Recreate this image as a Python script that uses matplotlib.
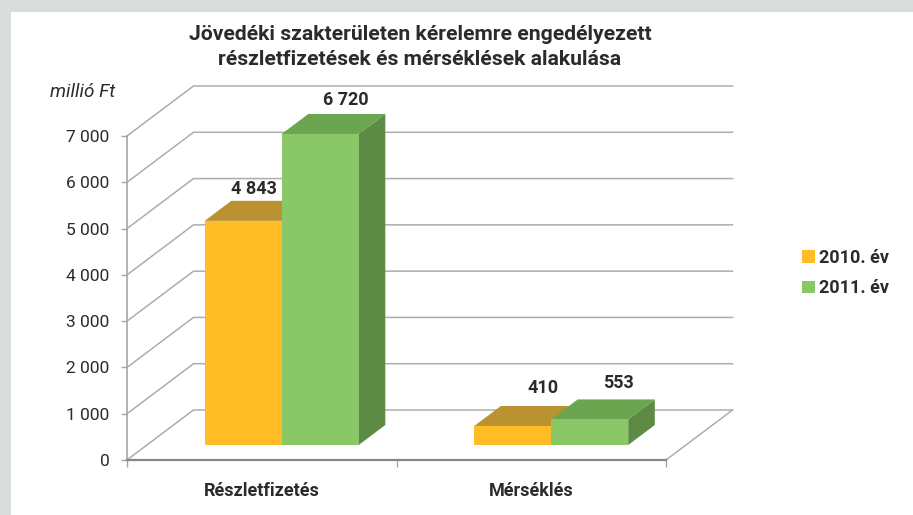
import matplotlib
matplotlib.use("Agg")
import matplotlib.pyplot as plt
from matplotlib.patches import Polygon, Patch, Rectangle

categories = ["Részletfizetés", "Mérséklés"]
series_names = ["2010. év", "2011. év"]
values_2010 = [4843, 410]
values_2011 = [6720, 553]
value_labels = [["4 843", "410"], ["6 720", "553"]]
y_ticks = [0, 1000, 2000, 3000, 4000, 5000, 6000, 7000]
y_tick_labels = ["0", "1 000", "2 000", "3 000", "4 000", "5 000", "6 000", "7 000"]
title = "Jövedéki szakterületen kérelemre engedélyezett\nrészletfizetések és mérséklések alakulása"
unit = "millió Ft"

FONT = "Roboto"
W, H = 913, 515
plt.rcParams["font.family"] = [FONT, "DejaVu Sans"]
fig = plt.figure(figsize=(W / 100, H / 100), dpi=100, facecolor="white")

# page frame
fig.patches.append(Rectangle((0, 1 - 12 / H), 1, 12 / H, transform=fig.transFigure, fc="#d9dcdc", ec="none"))
fig.patches.append(Rectangle((0, 0), 11 / W, 1, transform=fig.transFigure, fc="#d9dcdc", ec="none"))

L, R, T, B = 127, 666, 136, 460
ax = fig.add_axes([L / W, 1 - B / H, (R - L) / W, (B - T) / H])
ax.set_xlim(0, 2)
ax.set_ylim(0, 7000)
ax.patch.set_alpha(0)

# oblique projection: depth 0 = front plane, depth 1 = back wall
DX = 66.5 / (R - L) * 2
DY = 50 / (B - T) * 7000


def proj(x, y, d):
    return (x + d * DX, y + d * DY)


GRID = "#adadad"
for v in y_ticks:
    xs, ys = zip(proj(0, v, 0), proj(0, v, 1), proj(2, v, 1))
    ax.plot(xs, ys, color=GRID, lw=1.1, clip_on=False, zorder=1, solid_joinstyle="miter")
xs, ys = zip(proj(2, 0, 0), proj(2, 0, 1))
ax.plot(xs, ys, color=GRID, lw=1.1, clip_on=False, zorder=1)

BAR_W = 77 / (R - L) * 2
D0, D1 = 0.3, 0.7
colors = [
    {"front": "#FFBC25", "top": "#BA922F", "side": "#A9842A"},
    {"front": "#8AC766", "top": "#6CA550", "side": "#5D8A44"},
]
label_off = [[(-3, 12), (17, 18)], [(12, 14), (15, 16)]]


def bar3d(x0, x1, v, c, z):
    kw = dict(clip_on=False, zorder=z, ec="none")
    ax.add_patch(Polygon([proj(x1, 0, D0), proj(x1, 0, D1), proj(x1, v, D1), proj(x1, v, D0)], fc=c["side"], **kw))
    ax.add_patch(Polygon([proj(x0, v, D0), proj(x1, v, D0), proj(x1, v, D1), proj(x0, v, D1)], fc=c["top"], **kw))
    ax.add_patch(Polygon([proj(x0, 0, D0), proj(x1, 0, D0), proj(x1, v, D0), proj(x0, v, D0)], fc=c["front"], **kw))


for i in range(len(categories)):
    cx = i + 0.5
    for s, vals in enumerate((values_2010, values_2011)):
        x0 = cx + (s - 1) * BAR_W
        x1 = x0 + BAR_W
        bar3d(x0, x1, vals[i], colors[s], 3 + s)
        px, py = proj((x0 + x1) / 2, vals[i], D1)
        ox, oy = label_off[s][i]
        ax.annotate(value_labels[s][i], xy=(px - (D1 - 0.5) * DX, py),
                    xytext=(ox, oy), textcoords="offset pixels",
                    ha="center", va="center", fontsize=13, fontweight="bold",
                    color="#2b2b2b", zorder=10, annotation_clip=False)

for side in ("top", "right"):
    ax.spines[side].set_visible(False)
ax.spines["left"].set_color("#a6a6a6")
ax.spines["left"].set_linewidth(1.2)
ax.spines["bottom"].set_color("#868686")
ax.spines["bottom"].set_linewidth(1.6)

ax.set_yticks(y_ticks, y_tick_labels)
ax.tick_params(axis="y", length=4, width=1, color="#a6a6a6", labelsize=12.5, labelcolor="#2b2b2b", pad=8.5)
ax.set_xticks([0, 1, 2], ["", "", ""])
ax.set_xticks([0.5, 1.5], categories, minor=True)
ax.tick_params(axis="x", which="major", length=5, width=1, color="#a6a6a6")
ax.tick_params(axis="x", which="minor", length=0, pad=16, labelsize=13, labelcolor="#2b2b2b")
for t in ax.get_xticklabels(minor=True):
    t.set_fontweight("bold")

fig.text(420 / W, 1 - 47 / H, title, ha="center", va="center", fontsize=15.2, fontweight="bold",
         color="#2b2b2b", linespacing=1.45)
fig.text(50 / W, 1 - 92 / H, unit, ha="left", va="center", fontsize=13.6, style="italic", color="#2b2b2b")

handles = [Patch(fc=colors[0]["front"], ec="none"), Patch(fc=colors[1]["front"], ec="none")]
leg = fig.legend(handles, series_names, loc="center left", bbox_to_anchor=(802 / W, 1 - 273 / H),
                 frameon=False, handlelength=0.7, handleheight=0.7, handletextpad=0.25, labelspacing=0.7,
                 prop={"size": 13, "weight": "bold"}, labelcolor="#2b2b2b", borderpad=0, borderaxespad=0)

fig.savefig("out.png", dpi=100, facecolor="white")
